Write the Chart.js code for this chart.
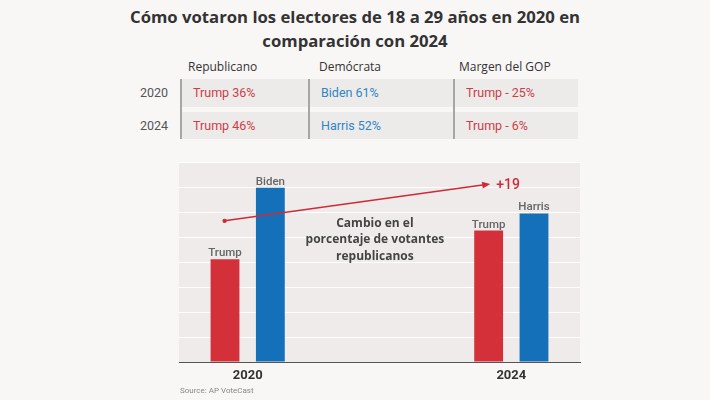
<!DOCTYPE html>
<html lang="es">
<head>
<meta charset="utf-8">
<script src="https://cdn.jsdelivr.net/npm/chart.js@4.4.1/dist/chart.umd.min.js"></script>
<style>
  body { margin: 0; width: 710px; height: 400px; background: #f9f7f6; position: relative; overflow: hidden; font-family: Roboto, sans-serif; }
  #title { position: absolute; left: 0; top: 5px; width: 710px; margin: 0; text-align: center; font: 700 16.7px/24px "Open Sans", sans-serif; color: #333; }
  .hdr { position: absolute; top: 59px; font: 400 12px/16px "Open Sans", sans-serif; color: #333; }
  .row { position: absolute; left: 180px; width: 398px; height: 27.5px; background: #edebea; }
  .yr { position: absolute; left: 118px; width: 50px; text-align: right; font: 400 12.5px Roboto, sans-serif; color: #555; }
  .cell { position: absolute; font: 400 12.5px Roboto, sans-serif; }
  .sep { position: absolute; top: 79px; width: 1.5px; height: 60px; background: #a8a6a5; }
  #wrap { position: absolute; left: 0; top: 150px; }
  #src { position: absolute; left: 180px; top: 386px; font: 400 8px Roboto, sans-serif; color: #888; }
</style>
</head>
<body>
<h1 id="title">Cómo votaron los electores de 18 a 29 años en 2020 en<br>comparación con 2024</h1>
<div id="table"></div>
<div id="wrap"><canvas id="chart" width="710" height="250"></canvas></div>
<div id="src">Source: AP VoteCast</div>
<script>
// datos
const years = [2020, 2024];
const repNames = ["Trump", "Trump"];
const demNames = ["Biden", "Harris"];
const repShare = [36, 46];
const demShare = [61, 52];
const gopMargin = ["Trump - 25%", "Trump - 6%"];
const tableHeaders = ["Republicano", "Demócrata", "Margen del GOP"];
const shiftLabel = "+19";
const arrowX = [2019.65, 2023.68];
const arrowY = [49.4, 62.3];
const noteLines = ["Cambio en el", "porcentaje de votantes", "republicanos"];
const noteX = 2021.93;
const noteY = 42.7;

const RED = "#d3303a";
const BLUE = "#1470b8";

// tabla de arriba
const table = document.getElementById("table");
const hdrLeft = [188, 319, 459];
const sepLeft = [180, 308, 453];
const cellLeft = [193, 321, 466];
const rowTop = [79.3, 111.8];
let html = "";
tableHeaders.forEach((h, i) => {
  html += `<div class="hdr" style="left:${hdrLeft[i]}px">${h}</div>`;
});
years.forEach((yr, i) => {
  const lh = `top:${rowTop[i]}px;line-height:27.5px;`;
  html += `<div class="row" style="top:${rowTop[i]}px"></div>`;
  html += `<div class="yr" style="${lh}">${yr}</div>`;
  const cells = [
    [`${repNames[i]} ${repShare[i]}%`, "#cf3d47"],
    [`${demNames[i]} ${demShare[i]}%`, "#2f86c6"],
    [gopMargin[i], "#cf3d47"]
  ];
  cells.forEach((c, j) => {
    html += `<div class="cell" style="${lh}left:${cellLeft[j]}px;color:${c[1]}">${c[0]}</div>`;
  });
});
sepLeft.forEach(x => { html += `<div class="sep" style="left:${x}px"></div>`; });
table.innerHTML = html;

const panelBg = {
  id: "panelBg",
  beforeDraw(chart) {
    const { ctx, chartArea: a } = chart;
    ctx.save();
    ctx.fillStyle = "#eeebea";
    ctx.fillRect(a.left, a.top, a.right - a.left, a.bottom - a.top);
    ctx.restore();
  }
};

const barLabels = {
  id: "barLabels",
  afterDatasetsDraw(chart) {
    const c = chart.ctx;
    c.save();
    c.font = "500 11.5px Roboto";
    c.fillStyle = "#666";
    c.textAlign = "center";
    c.textBaseline = "alphabetic";
    chart.data.datasets.forEach((ds, di) => {
      chart.getDatasetMeta(di).data.forEach((bar, i) => {
        c.fillText(ds.names[i], bar.x, bar.y - 3);
      });
    });
    c.restore();
  }
};

const arrow = {
  id: "arrow",
  afterDatasetsDraw(chart) {
    const c = chart.ctx;
    const { x, y } = chart.scales;
    const x0 = x.getPixelForValue(arrowX[0]), y0 = y.getPixelForValue(arrowY[0]);
    const x1 = x.getPixelForValue(arrowX[1]), y1 = y.getPixelForValue(arrowY[1]);
    const ang = Math.atan2(y1 - y0, x1 - x0);
    c.save();
    c.strokeStyle = "#cf2b37";
    c.fillStyle = "#cf2b37";
    c.lineWidth = 1.5;
    c.beginPath();
    c.moveTo(x0, y0);
    c.lineTo(x1 - 6 * Math.cos(ang), y1 - 6 * Math.sin(ang));
    c.stroke();
    c.beginPath();
    c.moveTo(x1, y1);
    c.lineTo(x1 - 8 * Math.cos(ang) + 3.5 * Math.sin(ang), y1 - 8 * Math.sin(ang) - 3.5 * Math.cos(ang));
    c.lineTo(x1 - 8 * Math.cos(ang) - 3.5 * Math.sin(ang), y1 - 8 * Math.sin(ang) + 3.5 * Math.cos(ang));
    c.closePath();
    c.fill();
    c.beginPath();
    c.arc(x0, y0, 2.2, 0, Math.PI * 2);
    c.fill();
    c.font = "500 14px Roboto";
    c.textAlign = "left";
    c.textBaseline = "middle";
    c.fillText(shiftLabel, x1 + 6, y1 + 1);

    // nota central
    c.font = "700 12px 'Open Sans'";
    c.fillStyle = "#444";
    c.textAlign = "center";
    const nx = x.getPixelForValue(noteX), ny = y.getPixelForValue(noteY);
    noteLines.forEach((t, i) => {
      c.fillText(t, nx, ny + (i - 1) * 16.5);
    });
    c.restore();
  }
};

const ctx = document.getElementById("chart");
chart = new Chart(ctx, {
  type: "bar",
  data: {
    datasets: [
      {
        label: "Republicano",
        data: years.map((yr, i) => ({ x: yr, y: repShare[i] })),
        names: repNames,
        backgroundColor: RED,
        categoryPercentage: 0.344,
        barPercentage: 0.636
      },
      {
        label: "Demócrata",
        data: years.map((yr, i) => ({ x: yr, y: demShare[i] })),
        names: demNames,
        backgroundColor: BLUE,
        categoryPercentage: 0.344,
        barPercentage: 0.636
      }
    ]
  },
  options: {
    responsive: false,
    animation: false,
    layout: { padding: { left: 179, right: 130, top: 12, bottom: 18 } },
    plugins: { legend: { display: false }, tooltip: { enabled: false } },
    scales: {
      x: {
        type: "linear",
        offset: false,
        min: 2018.958,
        max: 2025.042,
        afterBuildTicks: s => { s.ticks = years.map(v => ({ value: v })); },
        afterFit: s => { s.height = 20; },
        ticks: {
          callback: v => String(v),
          autoSkip: false,
          maxRotation: 0,
          padding: 6,
          color: "#333",
          font: { family: "Roboto", size: 13, weight: "bold" }
        },
        grid: { display: false, drawTicks: false },
        border: { color: "#555", width: 1 }
      },
      y: {
        min: 0,
        max: 70,
        ticks: { display: false, stepSize: 8.75 },
        grid: { color: "#ffffff", lineWidth: 1, drawTicks: false },
        border: { display: false }
      }
    }
  },
  plugins: [panelBg, barLabels, arrow]
});
</script>
</body>
</html>
